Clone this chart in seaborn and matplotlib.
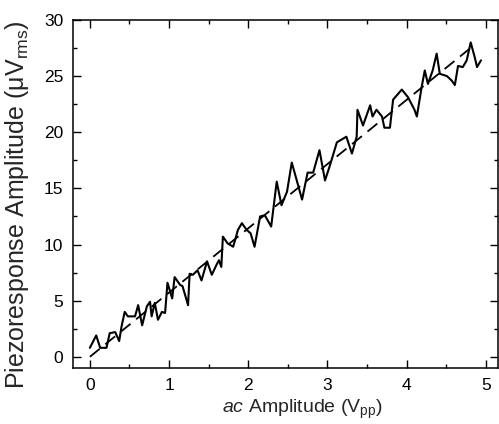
import numpy as np
import pandas as pd
import matplotlib
matplotlib.use("Agg")
import matplotlib.pyplot as plt
import seaborn as sns

# Datos
ac_amp = [0.00, 0.08, 0.13, 0.21, 0.25, 0.32, 0.37, 0.40, 0.44, 0.48,
          0.57, 0.61, 0.66, 0.72, 0.76, 0.78, 0.82, 0.86, 0.91, 0.95,
          0.98, 1.04, 1.07, 1.14, 1.17, 1.24, 1.26, 1.30, 1.36, 1.41,
          1.48, 1.54, 1.60, 1.63, 1.66, 1.68, 1.74, 1.81, 1.87, 1.92,
          1.98, 2.03, 2.08, 2.15, 2.21, 2.29, 2.36, 2.42, 2.49, 2.55,
          2.59, 2.68, 2.75, 2.82, 2.90, 2.97, 3.03, 3.12, 3.24, 3.31,
          3.37, 3.38, 3.45, 3.54, 3.57, 3.62, 3.69, 3.72, 3.79, 3.83,
          3.94, 4.02, 4.10, 4.13, 4.19, 4.23, 4.27, 4.33, 4.38, 4.42,
          4.51, 4.57, 4.61, 4.65, 4.71, 4.76, 4.81, 4.86, 4.89, 4.94]
piezo = [0.8, 1.9, 0.8, 0.8, 2.1, 2.2, 1.4, 2.7, 4.0, 3.6,
         3.6, 4.6, 2.8, 4.5, 4.9, 3.6, 4.8, 3.3, 4.0, 3.9,
         6.6, 5.2, 7.1, 6.4, 6.3, 4.6, 7.4, 7.3, 7.7, 6.8,
         8.5, 7.3, 8.2, 8.6, 8.0, 10.7, 10.1, 9.8, 11.3, 11.9,
         11.3, 11.0, 9.8, 12.5, 12.6, 11.6, 15.6, 13.5, 14.7, 17.3,
         16.3, 14.0, 16.4, 16.4, 18.4, 15.7, 17.0, 19.1, 19.6, 18.1,
         19.6, 22.0, 20.6, 22.4, 21.4, 22.0, 21.4, 20.4, 20.4, 22.9,
         23.8, 23.1, 22.0, 21.4, 24.0, 25.5, 24.3, 25.5, 27.0, 25.2,
         25.0, 24.6, 24.2, 25.9, 25.8, 26.4, 28.0, 26.7, 25.8, 26.4]

# Ajuste lineal
fit_x = [0.0, 4.85]
fit_slope = 5.72

df = pd.DataFrame({"ac": ac_amp, "pr": piezo})
fit = pd.DataFrame({"ac": fit_x, "pr": [fit_slope * v for v in fit_x]})

sns.set_style("ticks")
plt.rcParams["font.family"] = ["Liberation Sans", "DejaVu Sans"]
plt.rcParams["mathtext.fontset"] = "custom"
plt.rcParams["mathtext.rm"] = "Liberation Sans"
plt.rcParams["mathtext.it"] = "Liberation Sans:italic"

fig = plt.figure(figsize=(4.99, 4.24), dpi=100)
ax = fig.add_axes([0.146, 0.132, 0.852, 0.821])

sns.lineplot(data=fit, x="ac", y="pr", ax=ax, color="black", lw=1.3,
             dashes=False, linestyle=(0, (7, 4)))
sns.lineplot(data=df, x="ac", y="pr", ax=ax, color="black", lw=1.5,
             sort=False, estimator=None)

ax.set_xlim(-0.215, 5.155)
ax.set_ylim(-1, 30)
ax.set_xticks([0, 1, 2, 3, 4, 5])
ax.set_xticks(np.arange(0.5, 5.1, 1), minor=True)
ax.set_yticks([0, 5, 10, 15, 20, 25, 30])
ax.set_yticks(np.arange(2.5, 30, 5), minor=True)
ax.tick_params(which="both", direction="in", top=True, right=True,
               width=1.0, colors="black", labelsize=12.5)
ax.tick_params(which="major", length=5.5, pad=7)
ax.tick_params(which="minor", length=3)
for s in ax.spines.values():
    s.set_linewidth(1.1)
    s.set_color("black")

ax.set_xlabel(r"$\it{ac}$ Amplitude (V$_{\rm pp}$)", fontsize=14, labelpad=3)
ax.xaxis.set_label_coords(0.54, -0.085)
ax.set_ylabel("Piezoresponse Amplitude (μV$_{\\rm rms}$)", fontsize=18)
ax.yaxis.set_label_coords(-0.098, 0.47)

fig.savefig("out.png", dpi=100)
